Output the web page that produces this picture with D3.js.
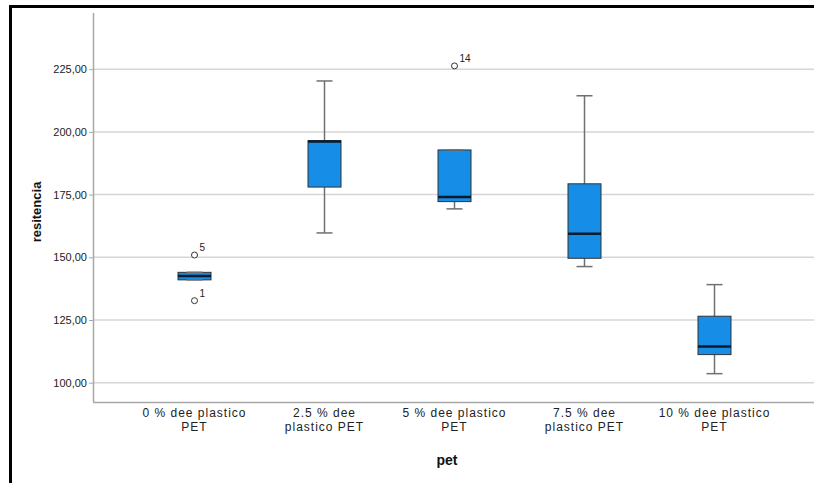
<!DOCTYPE html>
<html>
<head>
<meta charset="utf-8">
<script src="https://cdn.jsdelivr.net/npm/d3@7"></script>
<style>
  html, body { margin: 0; padding: 0; background: #fff; overflow: hidden; }
  svg { display: block; font-family: "Liberation Sans", Arial, sans-serif; }
</style>
</head>
<body>
<svg id="chart" width="814" height="483"></svg>
<script>
// Categories (two-line axis labels) and box-plot statistics per group
const categories = ["0 % dee plastico PET", "2.5 % dee plastico PET", "5 % dee plastico PET", "7.5 % dee plastico PET", "10 % dee plastico PET"];
const labelLines = [["0 % dee plastico", "PET"], ["2.5 % dee", "plastico PET"], ["5 % dee plastico", "PET"], ["7.5 % dee", "plastico PET"], ["10 % dee plastico", "PET"]];
const whiskerLow  = [141.0, 159.7, 169.3, 146.3, 103.6];
const q1          = [141.0, 178.0, 172.2, 149.6, 111.2];
const median      = [142.5, 196.2, 174.0, 159.4, 114.4];
const q3          = [144.0, 196.5, 192.8, 179.3, 126.5];
const whiskerHigh = [144.0, 220.3, 192.8, 214.4, 139.1];
const outlierGroup = [0, 0, 2];
const outlierValue = [150.9, 132.7, 226.3];
const outlierLabel = ["5", "1", "14"];
const yTicks = [100, 125, 150, 175, 200, 225];

const svg = d3.select("#chart");
const W = 814, H = 483;
const plot = { left: 93, right: 814, top: 13, bottom: 402 };

const x = d3.scalePoint().domain(categories).range([194.5, 714.5]);
const y = d3.scaleLinear().domain([92.3, 247.4]).range([plot.bottom, plot.top]);

// Outer frame
svg.append("path")
  .attr("d", `M10.5,${H} V6.5 H${W}`)
  .attr("fill", "none").attr("stroke", "#000").attr("stroke-width", 3);

// Gridlines
svg.append("g").selectAll("line").data(yTicks).join("line")
  .attr("x1", plot.left).attr("x2", plot.right)
  .attr("y1", d => y(d)).attr("y2", d => y(d))
  .attr("stroke", "#d6d6d6").attr("stroke-width", 1.5);

// Y axis
const yAxis = svg.append("g")
  .attr("transform", `translate(${plot.left},0)`)
  .call(d3.axisLeft(y).tickValues(yTicks).tickSize(4).tickPadding(2)
    .tickFormat(d => d3.format(".2f")(d).replace(".", ",")));
yAxis.select(".domain").remove();
yAxis.selectAll(".tick line").attr("stroke", "#a8a8a8");
yAxis.selectAll(".tick text").attr("font-size", 11).attr("fill", "#222")
  .attr("font-family", "'Liberation Sans', Arial, sans-serif");

// Axis lines
svg.append("line").attr("x1", plot.left + 0.5).attr("x2", plot.left + 0.5)
  .attr("y1", plot.top).attr("y2", plot.bottom)
  .attr("stroke", "#a8a8a8").attr("stroke-width", 1.5);
svg.append("line").attr("x1", plot.left).attr("x2", plot.right)
  .attr("y1", plot.bottom + 0.5).attr("y2", plot.bottom + 0.5)
  .attr("stroke", "#a8a8a8").attr("stroke-width", 1.5);

// Boxes
const boxW = 33, capW = 16;
const groups = svg.append("g").selectAll("g").data(categories).join("g")
  .attr("transform", d => `translate(${x(d)},0)`);

groups.append("line")
  .attr("x1", 0).attr("x2", 0)
  .attr("y1", (d, i) => y(whiskerHigh[i])).attr("y2", (d, i) => y(q3[i]))
  .attr("stroke", "#707070").attr("stroke-width", 1.5);
groups.append("line")
  .attr("x1", 0).attr("x2", 0)
  .attr("y1", (d, i) => y(q1[i])).attr("y2", (d, i) => y(whiskerLow[i]))
  .attr("stroke", "#707070").attr("stroke-width", 1.5);
groups.append("rect")
  .attr("x", -boxW / 2).attr("width", boxW)
  .attr("y", (d, i) => y(q3[i])).attr("height", (d, i) => y(q1[i]) - y(q3[i]))
  .attr("fill", "#168de6").attr("stroke", "#333").attr("stroke-width", 1);
groups.append("line")
  .attr("x1", -capW / 2).attr("x2", capW / 2)
  .attr("y1", (d, i) => y(whiskerHigh[i])).attr("y2", (d, i) => y(whiskerHigh[i]))
  .attr("stroke", "#707070").attr("stroke-width", 1.5);
groups.append("line")
  .attr("x1", -capW / 2).attr("x2", capW / 2)
  .attr("y1", (d, i) => y(whiskerLow[i])).attr("y2", (d, i) => y(whiskerLow[i]))
  .attr("stroke", "#707070").attr("stroke-width", 1.5);
groups.append("line")
  .attr("x1", -boxW / 2).attr("x2", boxW / 2)
  .attr("y1", (d, i) => y(median[i])).attr("y2", (d, i) => y(median[i]))
  .attr("stroke", "#0a1a2a").attr("stroke-width", 2.5);

// Outliers
const out = svg.append("g").selectAll("g").data(outlierValue).join("g")
  .attr("transform", (v, i) => `translate(${x(categories[outlierGroup[i]])},${y(v)})`);
out.append("circle").attr("r", 3).attr("fill", "#fff")
  .attr("stroke", "#333").attr("stroke-width", 1);
out.append("text").attr("x", 5).attr("y", -4)
  .attr("font-size", 10).attr("fill", "#222")
  .text((v, i) => outlierLabel[i]);

// X category labels
const xl = svg.append("g").selectAll("text").data(categories).join("text")
  .attr("x", d => x(d)).attr("y", 417)
  .attr("text-anchor", "middle").attr("font-size", 12).attr("fill", "#222")
  .attr("letter-spacing", 1);
xl.selectAll("tspan").data((d, i) => labelLines[i]).join("tspan")
  .attr("x", function () { return d3.select(this.parentNode).attr("x"); })
  .attr("dy", (d, j) => j === 0 ? 0 : 14)
  .text(d => d);

// Axis titles
svg.append("text").attr("x", 447).attr("y", 465)
  .attr("text-anchor", "middle").attr("font-size", 14).attr("font-weight", "bold")
  .attr("fill", "#111").text("pet");
svg.append("text")
  .attr("transform", "translate(41,212) rotate(-90)")
  .attr("text-anchor", "middle").attr("font-size", 13).attr("font-weight", "bold")
  .attr("fill", "#111").text("resitencia");
</script>
</body>
</html>
